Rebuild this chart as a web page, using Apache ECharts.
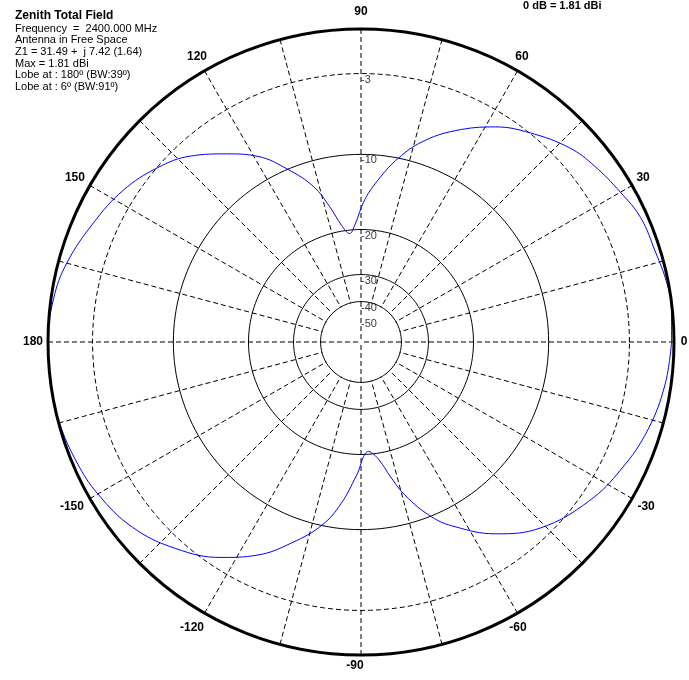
<!DOCTYPE html>
<html>
<head>
<meta charset="utf-8">
<script src="https://cdn.jsdelivr.net/npm/echarts@6/dist/echarts.min.js"></script>
<style>
html,body{margin:0;padding:0;background:#fff;}
#chart{width:689px;height:680px;}
</style>
</head>
<body>
<div id="chart"></div>
<script>
// Pattern: elevation angle (deg) and relative gain (dB)
const patternAngles = [-180, -172, -165, -157, -150, -141, -132, -123, -116, -109, -102, -97, -92, -86, -83, -80, -78, -74, -68, -63, -55, -46, -35, -26, -17, -8, 0, 6, 11, 17, 24, 30, 37, 43, 51, 58, 66, 73, 78.5, 83.5, 88.5, 93, 96, 99.5, 103, 107, 113, 119, 125.5, 132.5, 139.5, 147.5, 156, 165, 172];
const patternGainDb = [0, 0, -0.05, -0.28, -0.58, -1.21, -2.34, -3.86, -5.42, -7.58, -10.05, -12.8, -16.6, -20.5, -19.7, -18.0, -16.3, -13.2, -9.9, -8.05, -5.67, -3.74, -2.33, -1.51, -0.83, -0.38, -0.15, -0.05, -0.1, -0.32, -0.44, -0.86, -1.33, -1.84, -2.96, -4.11, -5.91, -7.86, -10.0, -12.5, -15.4, -19.2, -20.6, -19.0, -15.9, -12.8, -10.0, -7.6, -5.93, -4.22, -3.03, -2.03, -1.30, -0.53, -0.16];
// Gain rings (dB)
const ringDb = [-3, -10, -20, -30, -40];
const ringLabelDb = [-3, -10, -20, -30, -40, -50];
// Angle tick labels
const angleTickLabels = [0, 30, 60, 90, 120, 150, 180, -150, -120, -90, -60, -30];
const spokeStep = 15;
const infoLines = ['Frequency  =  2400.000 MHz', 'Antenna in Free Space', 'Z1 = 31.49 +  j 7.42 (1.64)', 'Max = 1.81 dBi', 'Lobe at : 180\u00ba (BW:39\u00ba)', 'Lobe at : 6\u00ba (BW:91\u00ba)'];
const titleText = 'Zenith Total Field';
const refText = '0 dB = 1.81 dBi';

// label nudges (style only), keyed by label text
const angleLabelNudge = {
  '0':[-5,0], '30':[-2,0], '60':[-3,-1], '90':[0,-2], '120':[0,-1], '150':[-2,0], '180':[0,0],
  '-150':[-5,1], '-120':[-5,2], '-90':[-6,-4], '-60':[-7,2], '-30':[1,1]
};

// MMANA-style log scale: relative radius = 10^(dB/45)
function toR(db){ return Math.pow(10, db/45); }
function normAngle(a){ return a < 0 ? a + 360 : a; }

const pts = patternAngles.map((a,i)=>[toR(patternGainDb[i]), normAngle(a)]);
pts.sort((p,q)=>p[1]-q[1]);
const first = pts[0];
pts.push([first[0], first[1] + 360]);

const ringSamples = [];
for (let a = 0; a <= 360; a += 2) ringSamples.push(a);

const CENTER = [361, 342];
const R = 313;
const LABEL_RADIUS = 328;
const FONT = 'Liberation Sans, Arial, sans-serif';

const chart = echarts.init(document.getElementById('chart'));

const series = [];
ringDb.forEach(db=>{
  series.push({
    type:'line', coordinateSystem:'polar', polarIndex:0, silent:true,
    symbol:'none', animation:false, z:2,
    lineStyle:{color:'#000', width:1, type: db === -3 ? [5,3] : 'solid'},
    data: ringSamples.map(a=>[toR(db), a])
  });
});
series.push({
  type:'scatter', coordinateSystem:'polar', polarIndex:0, silent:true, animation:false,
  symbolSize:0, z:4,
  data: ringLabelDb.map(db=>[toR(db), 90]),
  label:{show:true, position:'right', distance:0, offset:[0,6], color:'#000', fontSize:11, fontFamily:FONT,
    formatter:(p)=>String(ringLabelDb[p.dataIndex])}
});
series.push({
  type:'scatter', coordinateSystem:'polar', polarIndex:3, silent:true, animation:false,
  symbolSize:1, itemStyle:{opacity:0}, z:6,
  data: angleTickLabels.map(a=>({value:[1, normAngle(a)], label:{offset: angleLabelNudge[String(a)] || [0,0]}})),
  label:{show:true, position:'inside', color:'#000', opacity:1, fontSize:12, fontWeight:'bold', fontFamily:FONT,
    formatter:(p)=>String(angleTickLabels[p.dataIndex])}
});
series.push({
  type:'line', coordinateSystem:'polar', polarIndex:0, silent:true, animation:false,
  symbol:'none', smooth:0.4, z:5,
  lineStyle:{color:'#0000ff', width:1},
  data: pts
});

const hiddenAngle = (idx)=>({polarIndex:idx, type:'value', min:0, max:360, startAngle:0, clockwise:false,
  axisLine:{show:false}, axisTick:{show:false}, axisLabel:{show:false}, splitLine:{show:false}});

const option = {
  backgroundColor:'#fff',
  animation:false,
  polar:[
    {center:CENTER, radius:[0, R]},
    {center:CENTER, radius:[40, R]},
    {center:CENTER, radius:[0, 40]},
    {center:CENTER, radius:[0, LABEL_RADIUS]}
  ],
  angleAxis:[
    {polarIndex:0, type:'value', min:0, max:360, interval:30, startAngle:0, clockwise:false, z:6,
      axisLine:{lineStyle:{color:'#000', width:3}}, axisTick:{show:false}, splitLine:{show:false},
      axisLabel:{show:false}},
    {polarIndex:1, type:'value', min:0, max:360, interval:spokeStep, startAngle:0, clockwise:false,
      axisLine:{show:false}, axisTick:{show:false}, axisLabel:{show:false},
      splitLine:{show:true, lineStyle:{color:'#000', width:1, type:[5,3]}}},
    {polarIndex:2, type:'value', min:0, max:360, interval:90, startAngle:0, clockwise:false,
      axisLine:{show:false}, axisTick:{show:false}, axisLabel:{show:false},
      splitLine:{show:true, lineStyle:{color:'#000', width:1, type:[5,3]}}},
    hiddenAngle(3)
  ],
  radiusAxis:[
    {polarIndex:0, type:'value', min:0, max:1, show:false},
    {polarIndex:1, type:'value', min:0, max:1, show:false},
    {polarIndex:2, type:'value', min:0, max:1, show:false},
    {polarIndex:3, type:'value', min:0, max:1, show:false}
  ],
  graphic:[
    {type:'text', left:15, top:10, style:{text:titleText, font:'bold 12px '+FONT, fill:'#000'}},
    {type:'text', left:15, top:23, style:{text:infoLines.join('\n'), font:'11px '+FONT, lineHeight:11.6, fill:'#000'}},
    {type:'text', left:523, top:0, style:{text:refText, font:'bold 11px '+FONT, fill:'#000'}}
  ],
  series: series
};
chart.setOption(option);
</script>
</body>
</html>
